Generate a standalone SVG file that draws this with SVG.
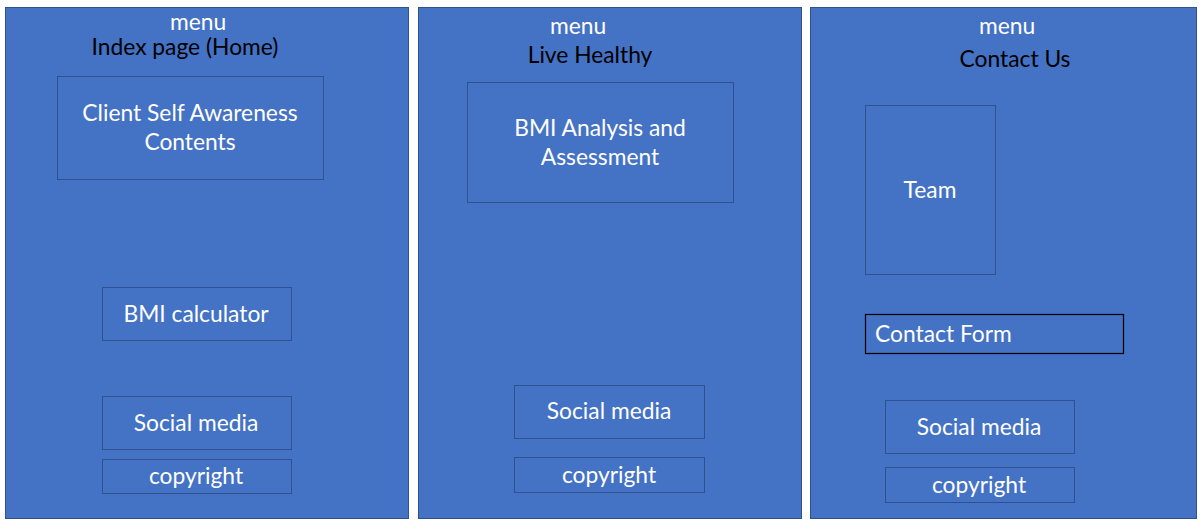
<svg xmlns="http://www.w3.org/2000/svg" width="1201" height="526" viewBox="0 0 1201 526">
<style>
.panel{fill:#4472C4;stroke:#2F528F;stroke-width:1}
.box{fill:#4472C4;stroke:#2F528F;stroke-width:1}
.dark{fill:#4472C4;stroke:#000;stroke-width:1.2}
text{font-family:Lato,"Open Sans",sans-serif;font-size:22.8px;dominant-baseline:central}
.w{fill:#fff;text-anchor:middle}
.wl{fill:#fff;text-anchor:start}
.k{fill:#000;text-anchor:middle}
</style>
<rect width="1201" height="526" fill="#fff"/>
<g id="page-home">
<rect class="panel" x="5.5" y="7.5" width="403" height="511"/>
<text class="w" x="198" y="21">menu</text>
<text class="k" x="185" y="46">Index page (Home)</text>
</g>
<g id="client-self-awareness">
<rect class="box" x="57.5" y="76.5" width="266" height="103"/>
<text class="w" x="190" y="111.5">Client Self Awareness</text>
<text class="w" x="190" y="140.5">Contents</text>
</g>
<g id="bmi-calculator">
<rect class="box" x="102.5" y="287.5" width="189" height="53"/>
<text class="w" x="196" y="312.5">BMI calculator</text>
</g>
<g id="social-1">
<rect class="box" x="102.5" y="396.5" width="189" height="53"/>
<text class="w" x="196" y="421.5">Social media</text>
</g>
<g id="copyright-1">
<rect class="box" x="102.5" y="459.5" width="189" height="34"/>
<text class="w" x="196" y="474.5">copyright</text>
</g>
<g id="page-live-healthy">
<rect class="panel" x="418.5" y="7.5" width="383" height="511"/>
<text class="w" x="578" y="24.5">menu</text>
<text class="k" x="590" y="53.5">Live Healthy</text>
</g>
<g id="bmi-analysis">
<rect class="box" x="467.5" y="82.5" width="266" height="120"/>
<text class="w" x="600" y="126.5">BMI Analysis and</text>
<text class="w" x="600" y="155.5">Assessment</text>
</g>
<g id="social-2">
<rect class="box" x="514.5" y="385.5" width="190" height="53"/>
<text class="w" x="609" y="409.5">Social media</text>
</g>
<g id="copyright-2">
<rect class="box" x="514.5" y="457.5" width="190" height="35"/>
<text class="w" x="609" y="473.5">copyright</text>
</g>
<g id="page-contact">
<rect class="panel" x="810.5" y="7.5" width="386" height="511"/>
<text class="w" x="1007" y="24.5">menu</text>
<text class="k" x="1015" y="57.5">Contact Us</text>
</g>
<g id="team">
<rect class="box" x="865.5" y="105.5" width="130" height="169"/>
<text class="w" x="930" y="188.5">Team</text>
</g>
<g id="contact-form">
<rect class="dark" x="865.5" y="314.5" width="258" height="39"/>
<text class="wl" x="875" y="332.5">Contact Form</text>
</g>
<g id="social-3">
<rect class="box" x="885.5" y="400.5" width="189" height="53"/>
<text class="w" x="979" y="425.5">Social media</text>
</g>
<g id="copyright-3">
<rect class="box" x="885.5" y="467.5" width="189" height="35"/>
<text class="w" x="979" y="483.5">copyright</text>
</g>
<g id="connectors"></g>
</svg>
